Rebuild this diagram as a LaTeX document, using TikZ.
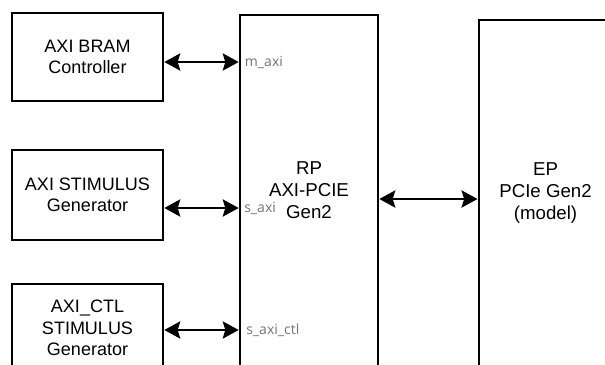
\documentclass[tikz,border=0pt]{standalone}
\usepackage{fontspec}
\setmainfont{Liberation Sans}
\newfontfamily\portfont{Open Sans}
\usetikzlibrary{arrows.meta}

\begin{document}
\begin{tikzpicture}[x=0.75pt, y=-0.75pt,
	block/.style={draw, line width=2pt, align=center, inner sep=0pt, font=\fontsize{13.5}{16}\selectfont},
	link/.style={{Stealth[length=12pt, width=13pt, inset=2pt]}-{Stealth[length=12pt, width=13pt, inset=2pt]}, line width=1.2pt},
	port/.style={anchor=west, inner sep=0pt, text=black!55, font=\portfont\fontsize{10.5}{12}\selectfont}]
	\useasboundingbox (0,0) rectangle (605,364);
	\clip (0,0) rectangle (605,364);
	\node[block, minimum width=113.25pt, minimum height=66pt] (bram) at (87.5,57) {AXI BRAM\\Controller};
	\node[block, minimum width=113.25pt, minimum height=67.5pt] (stim) at (87.5,195) {AXI STIMULUS\\Generator};
	\node[block, minimum width=113.25pt, minimum height=66pt] (ctl) at (87.5,328) {AXI\_CTL\\STIMULUS\\Generator};
	\node[block, minimum width=103.5pt, minimum height=263.25pt, font=\fontsize{14}{16.5}\selectfont] (rp) at (309,190.5) {RP\\AXI-PCIE\\Gen2};
	\node[block, minimum width=100pt, minimum height=259.5pt, font=\fontsize{14}{16.5}\selectfont] (ep) at (545.5,193) {EP\\PCIe Gen2\\(model)};
	\coordinate (maxi) at (rp.west |- 0,62);
	\coordinate (saxi) at (rp.west |- 0,208);
	\coordinate (sctl) at (rp.west |- 0,330);
	\draw[link] (bram.east |- maxi) -- (maxi);
	\draw[link] (stim.east |- saxi) -- (saxi);
	\draw[link] (ctl.east |- sctl) -- (sctl);
	\draw[link] (rp.east |- 0,199) -- (ep.west |- 0,199);
	\node[port] (lmaxi) at ([xshift=4.5pt]maxi) {m\_axi};
	\node[port] (lsaxi) at ([xshift=4pt]saxi) {s\_axi};
	\node[port] (lsctl) at ([xshift=5.5pt]sctl) {s\_axi\_ctl};
\end{tikzpicture}
\end{document}
